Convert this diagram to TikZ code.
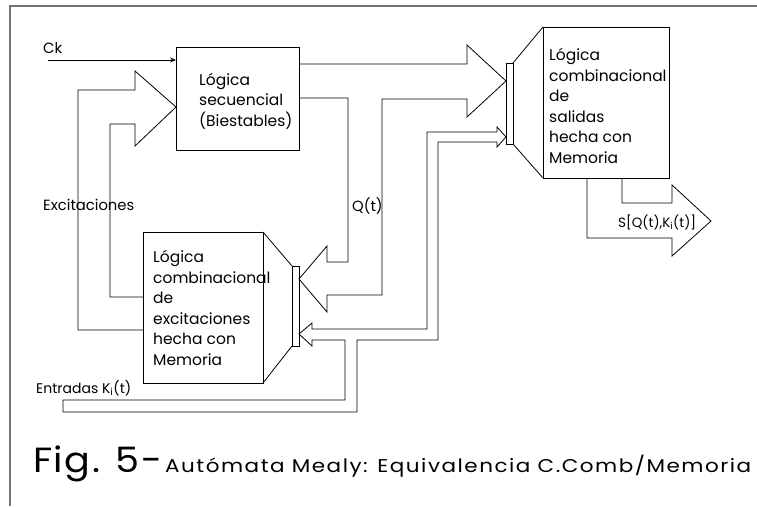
\documentclass[tikz,border=0pt]{standalone}
\usepackage{fontspec}
\setmainfont{Poppins}
\usetikzlibrary{arrows.meta}
\begin{document}
\begin{tikzpicture}[x=1pt,y=-1pt,
  frame/.style={draw=black!55,line width=1.4pt},
  wire/.style={draw=black,line width=0.8pt,line join=miter},
  blockbox/.style={draw=black,line width=0.8pt,rectangle,inner sep=0pt,outer sep=0pt},
  boxtext/.style={anchor=base west,inner sep=0pt,align=left,font=\fontsize{15.5}{20.5}\selectfont},
  lbl/.style={anchor=base west,inner sep=0pt,font=\fontsize{14.8}{17}\selectfont}]
\useasboundingbox (0,0) rectangle (757,506);
% frame
\draw[frame] (10,506) -- (10,6) -- (757,6);
% boxes
\node[blockbox,minimum width=123pt,minimum height=103pt] (seq) at (237.5,98.5) {};
\node[blockbox,minimum width=120pt,minimum height=151pt] (exc) at (203,307.5) {};
\node[blockbox,minimum width=126pt,minimum height=151pt] (sal) at (606,102.5) {};
\node[blockbox,minimum width=7pt,minimum height=80pt] (excbar) at (295.5,306) {};
\node[blockbox,minimum width=7pt,minimum height=81pt] (salbar) at (509.5,103.5) {};
% funnels
\draw[wire] (exc.north east) -- (excbar.north west);
\draw[wire] (exc.south east) -- (excbar.south west);
\draw[wire] (sal.north west) -- (salbar.north east);
\draw[wire] (sal.south west) -- (salbar.south east);
% texts in boxes (anchored at the baseline of the last line)
\node[boxtext] (seqt) at (199,126) {Lógica\\secuencial\\(Biestables)};
\node[boxtext] (exct) at (153,365) {Lógica\\combinacional\\de\\excitaciones\\hecha con\\Memoria};
\node[boxtext] (salt) at (549,163) {Lógica\\combinacional\\de\\salidas\\hecha con\\Memoria};
% clock
\node[lbl] (ck) at (43,53) {Ck};
\coordinate (ckin) at (48,60);
\draw[wire,-{Stealth[length=6pt,width=5pt]}] (ckin) -- (seq.west |- ckin);
% excitaciones band
\draw[wire] (143,330) -- (78,330) -- (78,90) -- (135,90) -- (135,71) -- (seq.west |- 0,107)
  -- (135,146) -- (135,124) -- (110,124) -- (110,297) -- (143,297);
\node[lbl] (excl) at (43,210) {Excitaciones};
% Q(t) band
\draw[wire] (299,64) -- (467,64) -- (467,45) -- (salbar.west |- 0,81) -- (467,117) -- (467,99)
  -- (382,99) -- (382,295) -- (327,295) -- (327,312) -- (excbar.east |- 0,279) -- (327,246)
  -- (327,262) -- (348,262) -- (348,98) -- (299,98);
\node[lbl] (ql) at (352,211) {Q(t)};
% entradas band
\draw[wire] (63,400) -- (345,400) -- (345,340) -- (312,340) -- (312,346) -- (excbar.east |- 0,334)
  -- (312,323) -- (312,329) -- (427,329) -- (427,132) -- (497,132) -- (497,127)
  -- (salbar.west |- 0,137) -- (497,147) -- (497,142) -- (438,142) -- (438,340)
  -- (357,340) -- (357,412) -- (63,412) -- cycle;
\node[lbl,font=\fontsize{14}{17}\selectfont] (entl) at (36,393) {Entradas K\textsubscript{i}(t)};
% output band
\draw[wire] (587,179) -- (587,238) -- (672,238) -- (672,256) -- (711,221) -- (672,185)
  -- (672,203) -- (622,203) -- (622,179);
\node[lbl,font=\fontsize{13.5}{17}\selectfont] (outl) at (618,227) {S[Q(t),K\textsubscript{i}(t)]};
% caption
\node[anchor=base west,inner sep=0pt,font=\fontsize{35}{40}\selectfont\addfontfeature{LetterSpace=4}] (fig) at (33,472) {\resizebox{129pt}{\height}{Fig. 5-}};
\node[anchor=base west,inner sep=0pt,font=\fontsize{18.5}{22}\selectfont\addfontfeature{LetterSpace=7}] (cap) at (165,472) {\resizebox{586pt}{\height}{Autómata Mealy: Equivalencia C.Comb/Memoria}};
\end{tikzpicture}
\end{document}
